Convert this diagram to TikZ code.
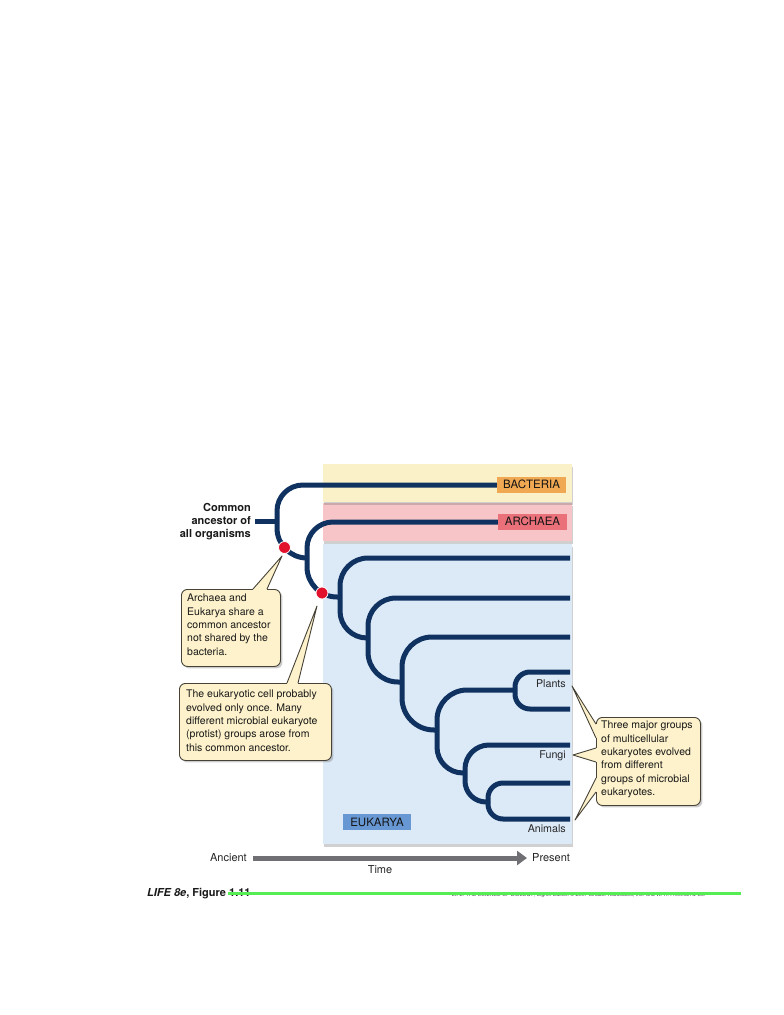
\documentclass[tikz,border=0pt]{standalone}
\usepackage{fontspec}
\setmainfont{TeX Gyre Heros}
\usetikzlibrary{arrows.meta,shadows}

\definecolor{navy}{RGB}{16,50,96}
\definecolor{bactband}{RGB}{251,241,201}
\definecolor{archband}{RGB}{247,197,199}
\definecolor{eukband}{RGB}{220,234,248}
\definecolor{bactlab}{RGB}{240,168,82}
\definecolor{archlab}{RGB}{234,112,122}
\definecolor{euklab}{RGB}{104,152,212}
\definecolor{callfill}{RGB}{253,242,203}
\definecolor{callline}{RGB}{70,66,56}
\definecolor{dotred}{RGB}{226,18,44}
\definecolor{timegray}{RGB}{112,112,116}
\definecolor{glitch}{RGB}{84,238,84}

\begin{document}
\begin{tikzpicture}[x=1pt,y=-1pt,
  tree/.style={draw=navy,line width=5pt},
  band/.style={draw=none, drop shadow={shadow xshift=1pt,shadow yshift=-2.5pt,opacity=0.3,fill=black!60}},
  grouplab/.style={inner sep=0pt, minimum width=69pt, minimum height=16pt, font=\fontsize{11.5}{12}\selectfont, text=black!92},
  callbox/.style={fill=callfill, draw=callline, line width=0.9pt, rounded corners=6pt, inner sep=0pt, anchor=north west, drop shadow={shadow xshift=2pt,shadow yshift=-2pt,opacity=0.4}},
  calltext/.style={inner sep=0pt, anchor=north west, align=left, font=\fontsize{10.5}{13.3}\selectfont, text=black!90},
  calledge/.style={draw=callline, line width=0.9pt, line join=round},
  leaflab/.style={inner sep=0pt, anchor=east, font=\fontsize{10.7}{12}\selectfont, text=black!85},
  axislab/.style={inner sep=0pt, font=\fontsize{11}{13}\selectfont, text=black!85},
  reddot/.style={circle, fill=dotred, draw=white, line width=0.8pt, minimum size=12pt, inner sep=0pt},
]
\useasboundingbox (0,0) rectangle (784,1015);
\fill[white] (0,0) rectangle (784,1015);

% ---- bands ----
\fill[eukband, band] (323,544) rectangle (572,844);
\fill[archband, band] (323,503) rectangle (572,541);
\fill[bactband, band] (323,464) rectangle (572,502);

% ---- tree coordinates ----
\coordinate (J0) at (255,521);
\coordinate (J1) at (277,521);
\coordinate (J2) at (307,558);
\coordinate (J3) at (340,597);
\coordinate (J4) at (368,638);
\coordinate (J5) at (402,682);
\coordinate (J6) at (437,730);
\coordinate (JP) at (515,690);
\coordinate (J7) at (465,773);
\coordinate (J8) at (488,802);
\coordinate (Eb) at (500,485);
\coordinate (Ea) at (500,522);
\coordinate (E1) at (570,558);
\coordinate (E2) at (570,598);
\coordinate (E3) at (570,637);
\coordinate (P1) at (570,672);
\coordinate (P2) at (570,709);
\coordinate (F1) at (570,745);
\coordinate (A1) at (570,783);
\coordinate (A2) at (570,819);

% ---- tree ----
\draw[tree] (J0) -- (J1);
\draw[tree, rounded corners=26pt] (J1) |- (Eb);
\draw[tree, rounded corners=30pt] (J1) |- (J2);
\draw[tree, rounded corners=26pt] (J2) |- (Ea);
\draw[tree, rounded corners=30pt] (J2) |- (J3);
\draw[tree, rounded corners=28pt] (J3) |- (E1);
\draw[tree, rounded corners=27pt] (J3) |- (J4);
\draw[tree, rounded corners=28pt] (J4) |- (E2);
\draw[tree, rounded corners=30pt] (J4) |- (J5);
\draw[tree, rounded corners=30pt] (J5) |- (E3);
\draw[tree, rounded corners=32pt] (J5) |- (J6);
\draw[tree, rounded corners=30pt] (J6) |- (JP);
\draw[tree, rounded corners=26pt] (J6) |- (J7);
\draw[tree, rounded corners=15pt] (JP) |- (P1);
\draw[tree, rounded corners=15pt] (JP) |- (P2);
\draw[tree, rounded corners=24pt] (J7) |- (F1);
\draw[tree, rounded corners=21pt] (J7) |- (J8);
\draw[tree, rounded corners=15pt] (J8) |- (A1);
\draw[tree, rounded corners=15pt] (J8) |- (A2);

% ---- group labels ----
\node[grouplab, fill=bactlab] (bact) at (531.5,484.5) {BACTERIA};
\node[grouplab, fill=archlab] (arch) at (532.5,521.5) {ARCHAEA};
\node[grouplab, fill=euklab, minimum width=68pt] (euk) at (377,822) {EUKARYA};

% ---- leaf labels ----
\node[leaflab] (plants) at (566,684) {Plants};
\node[leaflab] (fungi) at (566,756) {Fungi};
\node[leaflab] (animals) at (566,829) {Animals};

% ---- root label ----
\node[inner sep=0pt, anchor=east, align=right, font=\fontsize{11}{13}\selectfont\bfseries, text=black!90] (root) at (251,522) {Common\\ancestor of\\all organisms};

% ---- red dots ----
\node[reddot] (d1) at (284.5,547.5) {};
\node[reddot] (d2) at (322,593) {};

% ---- callout 1 ----
\node[callbox, minimum width=99pt, minimum height=77pt] (c1box) at (181,589) {};
\coordinate (t1) at (282,556);
\fill[callfill] (253.6,591.5) -- (253,589) -- (t1) -- (267,589) -- (266.4,591.5) -- cycle;
\draw[calledge] (253,589) -- (t1) -- (267,589);
\node[calltext] (c1text) at (187,594) {Archaea and\\Eukarya share a\\common ancestor\\not shared by the\\bacteria.};

% ---- callout 2 ----
\node[callbox, minimum width=152pt, minimum height=77pt] (c2box) at (179,683) {};
\coordinate (t2) at (317,606);
\fill[callfill] (287.6,685.5) -- (287,683) -- (t2) -- (298,683) -- (297.4,685.5) -- cycle;
\draw[calledge] (287,683) -- (t2) -- (298,683);
\node[calltext] (c2text) at (186,690) {The eukaryotic cell probably\\evolved only once. Many\\different microbial eukaryote\\(protist) groups arose from\\this common ancestor.};

% ---- callout 3 ----
\node[callbox, minimum width=104pt, minimum height=88pt] (c3box) at (596,717) {};
\coordinate (t3) at (572,686);
\coordinate (t4) at (573,755);
\coordinate (t5) at (575,820);
\fill[callfill] (598.5,724.6) -- (596,724) -- (t3) -- (596,738) -- (598.5,737.4) -- cycle;
\draw[calledge] (596,724) -- (t3) -- (596,738);
\fill[callfill] (598.5,748.6) -- (596,748) -- (t4) -- (596,762) -- (598.5,761.4) -- cycle;
\draw[calledge] (596,748) -- (t4) -- (596,762);
\fill[callfill] (598.5,778.6) -- (596,778) -- (t5) -- (596,792) -- (598.5,791.4) -- cycle;
\draw[calledge] (596,778) -- (t5) -- (596,792);
\node[calltext] (c3text) at (601,721) {Three major groups\\of multicellular\\eukaryotes evolved\\from different\\groups of microbial\\eukaryotes.};

% ---- time axis ----
\node[axislab, anchor=east] (anc) at (247,858) {Ancient};
\node[axislab, anchor=west] (pres) at (532,858) {Present};
\node[axislab] (time) at (380,870) {Time};
\draw[timegray, line width=5pt, -{Triangle[length=10pt,width=14pt]}] ([xshift=6pt]anc.east) -- ([xshift=-5pt]pres.west);

% ---- caption ----
\node[inner sep=0pt, anchor=west, font=\fontsize{11}{13}\selectfont\bfseries, text=black!90] (cap) at (147,894) {\textit{LIFE 8e}, Figure 1.11};
\node[inner sep=0pt, anchor=west, font=\fontsize{5.2}{6}\selectfont, text=black!75] (copy) at (452,895) {\textit{LIFE: THE SCIENCE OF BIOLOGY}, Eighth Edition \textcopyright{} 2007 Sinauer Associates, Inc. and W. H. Freeman \& Co.};
\draw[glitch, line width=3pt] (228,893) -- (741,893);

\end{tikzpicture}
\end{document}
